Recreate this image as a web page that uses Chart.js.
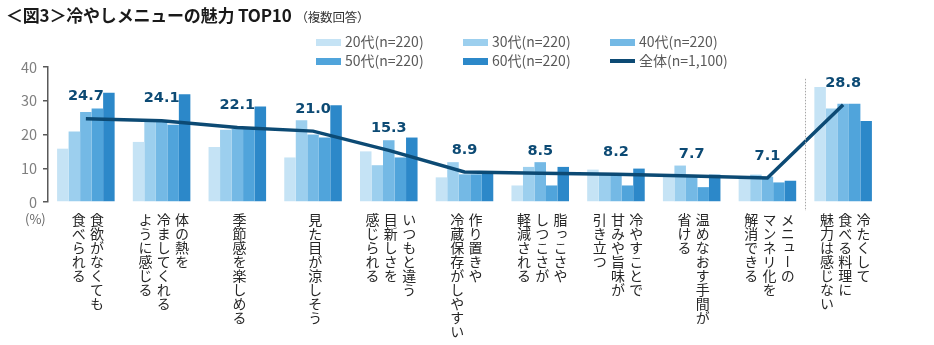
<!DOCTYPE html>
<html lang="ja">
<head>
<meta charset="utf-8">
<script src="https://cdn.jsdelivr.net/npm/chart.js@4"></script>
<style>
  html, body { margin: 0; padding: 0; background: #fff; }
  #wrap { position: relative; width: 934px; height: 345px; overflow: hidden; font-family: "Noto Sans CJK JP", "Noto Sans", sans-serif; }
  #c { position: absolute; left: 0; top: 0; }
  .title { position: absolute; left: 6px; top: 2px; font-size: 17px; font-weight: bold; color: #1a1a1a; white-space: nowrap; letter-spacing: -0.2px; }
  .title small { font-size: 12.5px; font-weight: normal; color: #333; margin-left: 4px; }
  .leg { position: absolute; font-size: 14px; color: #595959; white-space: nowrap; line-height: 18px; }
  .sw { position: absolute; width: 25px; height: 7px; }
  .swl { position: absolute; width: 25px; height: 3.5px; }
  .xl { position: absolute; writing-mode: vertical-rl; font-size: 14px; line-height: 18.3px; color: #262626; white-space: pre; }
  .unit { position: absolute; left: 25px; top: 209px; font-size: 13px; color: #666; }
</style>
</head>
<body>
<div id="wrap">
  <canvas id="c" width="934" height="345"></canvas>
  <div class="title">＜図3＞冷やしメニューの魅力 TOP10<small>（複数回答）</small></div>
  <div class="unit">(%)</div>
</div>
<script>
const categories = [
  ["食欲がなくても", "食べられる"],
  ["体の熱を", "冷ましてくれる", "ように感じる"],
  ["季節感を楽しめる"],
  ["見た目が涼しそう"],
  ["いつもと違う", "目新しさを", "感じられる"],
  ["作り置きや", "冷蔵保存がしやすい"],
  ["脂っこさや", "しつこさが", "軽減される"],
  ["冷やすことで", "甘みや旨味が", "引き立つ"],
  ["温めなおす手間が", "省ける"],
  ["メニューの", "マンネリ化を", "解消できる"],
  ["冷たくして", "食べる料理に", "魅力は感じない"]
];
const seriesNames = ["20代(n=220)", "30代(n=220)", "40代(n=220)", "50代(n=220)", "60代(n=220)"];
const totalName = "全体(n=1,100)";
const age20 = [15.8, 17.8, 16.3, 13.2, 15.0, 7.3, 4.9, 9.6, 7.9, 7.6, 34.1];
const age30 = [20.9, 23.7, 21.4, 24.2, 10.9, 11.8, 10.4, 8.6, 10.8, 8.1, 27.7];
const age40 = [26.7, 23.9, 21.6, 20.0, 18.3, 8.2, 11.8, 8.4, 7.9, 7.5, 29.1];
const age50 = [27.7, 22.9, 21.8, 19.1, 13.2, 8.2, 4.9, 4.9, 4.4, 5.8, 29.1];
const age60 = [32.4, 31.9, 28.3, 28.7, 19.1, 8.6, 10.4, 9.9, 8.1, 6.3, 24.0];
const total = [24.7, 24.1, 22.1, 21.0, 15.3, 8.9, 8.5, 8.2, 7.7, 7.1, 28.8];
const yTicks = [0, 10, 20, 30, 40];

const barColors = ["#c5e3f5", "#9ccfee", "#74b9e5", "#50a4db", "#2c88c9"];
const lineColor = "#0c4a74";
const ageSeries = [age20, age30, age40, age50, age60];

const wrap = document.getElementById("wrap");

// HTML legend (3 columns x 2 rows)
const legendPos = [[316, 42], [463, 42], [610, 42], [316, 61], [463, 61]];
seriesNames.forEach((n, i) => {
  const [x, y] = legendPos[i];
  const s = document.createElement("div");
  s.className = "sw"; s.style.left = x + "px"; s.style.top = (y - 3.5) + "px"; s.style.background = barColors[i];
  wrap.appendChild(s);
  const t = document.createElement("div");
  t.className = "leg"; t.style.left = (x + 29) + "px"; t.style.top = (y - 10) + "px"; t.textContent = n;
  wrap.appendChild(t);
});
{
  const x = 610, y = 61;
  const s = document.createElement("div");
  s.className = "swl"; s.style.left = x + "px"; s.style.top = (y - 1.75) + "px"; s.style.background = lineColor;
  wrap.appendChild(s);
  const t = document.createElement("div");
  t.className = "leg"; t.style.left = (x + 29) + "px"; t.style.top = (y - 10) + "px"; t.textContent = totalName;
  wrap.appendChild(t);
}

const extras = {
  id: "extras",
  afterDatasetsDraw(chart) {
    const ctx = chart.ctx;
    const xs = chart.scales.x, ys = chart.scales.y;
    // dotted separator between last two categories
    const n = categories.length;
    const sx = Math.round((xs.getPixelForValue(n - 2) + xs.getPixelForValue(n - 1)) / 2) + 0.5;
    ctx.save();
    ctx.strokeStyle = "#a6a6a6";
    ctx.lineWidth = 1;
    ctx.setLineDash([1.5, 1.5]);
    ctx.beginPath();
    ctx.moveTo(sx, ys.getPixelForValue(36.5));
    ctx.lineTo(sx, ys.getPixelForValue(0) + 9);
    ctx.stroke();
    ctx.restore();
    // data labels for total
    ctx.save();
    ctx.fillStyle = lineColor;
    ctx.font = "bold 14.5px 'DejaVu Sans', 'Noto Sans', sans-serif";
    ctx.textAlign = "center";
    ctx.textBaseline = "middle";
    total.forEach((v, i) => {
      ctx.fillText(v.toFixed(1), xs.getPixelForValue(i), ys.getPixelForValue(v) - 22);
    });
    ctx.restore();
  },
  afterDraw(chart) {
    if (chart._xlDone) return;
    chart._xlDone = true;
    const xs = chart.scales.x, ys = chart.scales.y;
    categories.forEach((lines, i) => {
      const d = document.createElement("div");
      d.className = "xl";
      d.textContent = lines.join("\n");
      wrap.appendChild(d);
      const w = d.offsetWidth;
      d.style.left = (xs.getPixelForValue(i) + 2 - w / 2) + "px";
      d.style.top = (ys.getPixelForValue(0) + 11) + "px";
    });
  }
};

const datasets = [{
  type: "line",
  label: totalName,
  data: total,
  borderColor: lineColor,
  backgroundColor: lineColor,
  borderWidth: 3.5,
  pointRadius: 0,
  tension: 0,
  order: 0
}];
ageSeries.forEach((arr, i) => {
  datasets.push({
    type: "bar",
    label: seriesNames[i],
    data: arr,
    backgroundColor: barColors[i],
    borderWidth: 0,
    barPercentage: 1.0,
    categoryPercentage: 0.76,
    order: 1
  });
});

new Chart(document.getElementById("c"), {
  data: { labels: categories.map(c => c.join("")), datasets },
  plugins: [extras],
  options: {
    responsive: false,
    animation: false,
    events: [],
    layout: { padding: { left: 0, right: 53, top: 67, bottom: 143 } },
    plugins: { legend: { display: false }, tooltip: { enabled: false } },
    scales: {
      x: { type: "category", display: false, offset: true },
      y: {
        min: 0, max: 40,
        afterFit(scale) { scale.width = 48; },
        afterBuildTicks(scale) { scale.ticks = yTicks.map(v => ({ value: v })); },
        border: { display: true, color: "#595959", width: 1.5 },
        grid: { display: true, drawOnChartArea: false, drawTicks: true, tickLength: 5, color: "#595959", lineWidth: 1.5 },
        ticks: { color: "#7f7f7f", padding: 6, font: { family: "'Noto Sans CJK JP', 'Noto Sans', sans-serif", size: 14.5 } }
      }
    }
  }
});
</script>
</body>
</html>
